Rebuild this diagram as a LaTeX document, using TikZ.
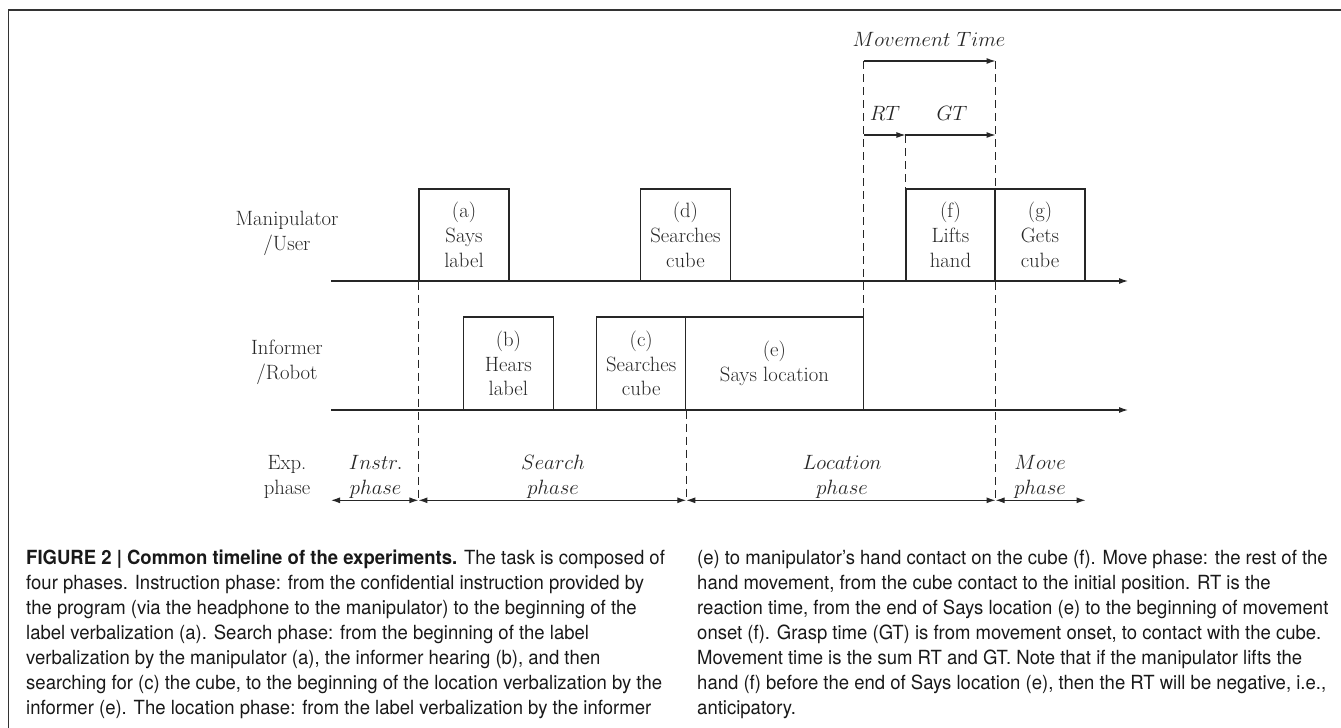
\RequirePackage{fix-cm}
\documentclass[tikz,border=0pt]{standalone}
\usepackage{fontspec}
\usetikzlibrary{arrows.meta}
\newfontfamily\capfont[FakeStretch=0.95]{TeX Gyre Heros}
\definecolor{ink}{gray}{0.15}
\tikzset{
  diag/.style={font=\fontsize{20.7}{24.8}\selectfont, text=ink},
  sigbox/.style={draw=ink, line width=1.1pt, inner sep=0pt, align=center, diag},
  mbox/.style={sigbox, minimum height=92pt},
  ibox/.style={sigbox, minimum height=93pt},
  dashline/.style={draw=ink, line width=0.9pt, dash pattern=on 8pt off 5pt},
  axisline/.style={draw=ink, line width=1.1pt, -{Latex[length=9pt,width=6pt]}},
  spanline/.style={draw=ink, line width=1.1pt, {Latex[length=9pt,width=6pt]}-{Latex[length=9pt,width=6pt]}},
  lbl/.style={diag, align=center, inner sep=0pt},
  capline/.style={anchor=base west, inner sep=0pt, font=\capfont\fontsize{19.5}{25}\selectfont, text=black!90},
}
\begin{document}
\begin{tikzpicture}[x=1pt,y=-1pt]
\useasboundingbox (0,0) rectangle (1341,728);
% frame
\coordinate (fl) at (8.5,728);
\coordinate (ftl) at (8.5,10);
\coordinate (ftr) at (1341,10);
\draw[line width=1.5pt, draw=black!80] (fl) -- (ftl) -- (ftr);

% row labels
\node[lbl] (lman) at (287,233) {Manipulator\\/User};
\node[lbl] (linf) at (287,362) {Informer\\/Robot};
\node[lbl] (lexp) at (287,477) {Exp.\\phase};

% axes
\coordinate (m0) at (331,281);
\coordinate (m1) at (1128,281);
\coordinate (i0) at (331,410);
\coordinate (i1) at (1128,410);
\draw[axisline] (m0) -- (m1);
\draw[axisline] (i0) -- (i1);

% manipulator boxes
\node[mbox, minimum width=90pt] (a) at (464,235) {(a)\\Says\\label};
\node[mbox, minimum width=89.3pt] (d) at (685.4,235) {(d)\\Searches\\cube};
\node[mbox, minimum width=89pt] (f) at (950.5,235) {(f)\\Lifts\\hand};
\node[mbox, minimum width=90pt] (g) at (1040,235) {(g)\\Gets\\cube};

% informer boxes
\node[ibox, minimum width=89.3pt] (b) at (508.4,363.5) {(b)\\Hears\\label};
\node[ibox, minimum width=89pt] (c) at (641.2,363.5) {(c)\\Searches\\cube};
\node[ibox, minimum width=177.3pt] (e) at (774.4,363.5) {(e)\\Says location};

% phase arrows
\coordinate (p0) at (331,500.3);
\coordinate (p1) at (a.south west |- p0);
\coordinate (p2) at (c.south east |- p0);
\coordinate (p4) at (f.south east |- p0);
\coordinate (p5) at (g.south east |- p0);
\draw[spanline] (p0) -- (p1);
\draw[spanline] (p1) -- (p2);
\draw[spanline] (p2) -- (p4);
\draw[spanline] (p4) -- (p5);

\node[lbl] (tinstr) at (375.7,477) {$Instr.$\\$phase$};
\node[lbl] (tsearch) at (553,477) {$Search$\\$phase$};
\node[lbl] (tloc) at (842,477) {$Location$\\$phase$};
\node[lbl] (tmove) at (1040,477) {$Move$\\$phase$};

% timing arrows
\coordinate (mt0) at (e.north east |- 0,61);
\coordinate (mt1) at (f.north east |- 0,61);
\coordinate (rt0) at (e.north east |- 0,135);
\coordinate (rt1) at (f.north west |- 0,135);
\coordinate (gt1) at (f.north east |- 0,135);
\draw[axisline] (mt0) -- (mt1);
\draw[axisline] (rt0) -- (rt1);
\draw[axisline] (rt1) -- (gt1);
\node[lbl] (tmt) at (929,39) {$Movement\ Time$};
\node[lbl] (trt) at (885,113) {$RT$};
\node[lbl] (tgt) at (952,113) {$GT$};

% dashed markers
\draw[dashline] (a.south west) -- (p1);
\draw[dashline] (c.south east) -- (p2);
\draw[dashline] (mt0) -- (e.north east);
\draw[dashline] (rt1) -- (f.north west);
\draw[dashline] (mt1) -- (p4);

% caption
\node[capline] (c1) at (26,564) {\textbf{FIGURE 2 | Common timeline of the experiments.} The task is composed of};
\node[capline] (c2) at (26,589) {four phases. Instruction phase: from the confidential instruction provided by};
\node[capline] (c3) at (26,614) {the program (via the headphone to the manipulator) to the beginning of the};
\node[capline] (c4) at (26,639) {label verbalization (a). Search phase: from the beginning of the label};
\node[capline] (c5) at (26,664) {verbalization by the manipulator (a), the informer hearing (b), and then};
\node[capline] (c6) at (26,689) {searching for (c) the cube, to the beginning of the location verbalization by the};
\node[capline] (c7) at (26,714) {informer (e). The location phase: from the label verbalization by the informer};
\node[capline] (d1) at (697,564) {(e) to manipulator’s hand contact on the cube (f). Move phase: the rest of the};
\node[capline] (d2) at (697,589) {hand movement, from the cube contact to the initial position. RT is the};
\node[capline] (d3) at (697,614) {reaction time, from the end of Says location (e) to the beginning of movement};
\node[capline] (d4) at (697,639) {onset (f). Grasp time (GT) is from movement onset, to contact with the cube.};
\node[capline] (d5) at (697,664) {Movement time is the sum RT and GT. Note that if the manipulator lifts the};
\node[capline] (d6) at (697,689) {hand (f) before the end of Says location (e), then the RT will be negative, i.e.,};
\node[capline] (d7) at (697,714) {anticipatory.};
\end{tikzpicture}
\end{document}
